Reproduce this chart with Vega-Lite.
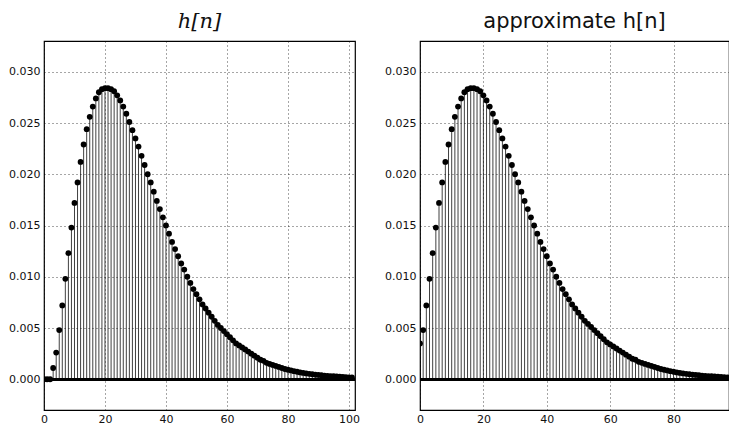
{
  "$schema": "https://vega.github.io/schema/vega-lite/v6.json",
  "padding": {"left": 5, "top": 10, "right": 0, "bottom": 0},
  "background": "white",
  "config": {
    "view": {"stroke": "#000", "strokeWidth": 1.2},
    "title": {"anchor": "middle", "fontSize": 21, "fontWeight": "normal", "color": "#111", "offset": 9},
    "axis": {
      "labelFont": "DejaVu Sans", "labelFontSize": 11, "labelColor": "#111", "labelFlush": false,
      "grid": true, "gridColor": "#000", "gridDash": [1, 3], "gridOpacity": 0.7, "gridWidth": 1,
      "domain": false, "ticks": false, "title": null
    }
  },
  "datasets": {
    "h": [
      {"n":0,"v":0},{"n":1,"v":0},{"n":2,"v":0},{"n":3,"v":0.0011},{"n":4,"v":0.0026},{"n":5,"v":0.0048},{"n":6,"v":0.0072},{"n":7,"v":0.0098},{"n":8,"v":0.0123},{"n":9,"v":0.0148},
      {"n":10,"v":0.0172},{"n":11,"v":0.0192},{"n":12,"v":0.0212},{"n":13,"v":0.0229},{"n":14,"v":0.0244},{"n":15,"v":0.0256},{"n":16,"v":0.0266},{"n":17,"v":0.0274},{"n":18,"v":0.0280},{"n":19,"v":0.0283},
      {"n":20,"v":0.0284},{"n":21,"v":0.0284},{"n":22,"v":0.0283},{"n":23,"v":0.0281},{"n":24,"v":0.0277},{"n":25,"v":0.0272},{"n":26,"v":0.0266},{"n":27,"v":0.0259},{"n":28,"v":0.0251},{"n":29,"v":0.0243},
      {"n":30,"v":0.0235},{"n":31,"v":0.0227},{"n":32,"v":0.0218},{"n":33,"v":0.0209},{"n":34,"v":0.0200},{"n":35,"v":0.0192},{"n":36,"v":0.0183},{"n":37,"v":0.0174},{"n":38,"v":0.0166},{"n":39,"v":0.0158},
      {"n":40,"v":0.0150},{"n":41,"v":0.0142},{"n":42,"v":0.0134},{"n":43,"v":0.0127},{"n":44,"v":0.0120},{"n":45,"v":0.0113},{"n":46,"v":0.0107},{"n":47,"v":0.0100},{"n":48,"v":0.0094},{"n":49,"v":0.0088},
      {"n":50,"v":0.0083},{"n":51,"v":0.0078},{"n":52,"v":0.0073},{"n":53,"v":0.0069},{"n":54,"v":0.0065},{"n":55,"v":0.0061},{"n":56,"v":0.0057},{"n":57,"v":0.0053},{"n":58,"v":0.0050},{"n":59,"v":0.0047},
      {"n":60,"v":0.0044},{"n":61,"v":0.0041},{"n":62,"v":0.0038},{"n":63,"v":0.0035},{"n":64,"v":0.0033},{"n":65,"v":0.0031},{"n":66,"v":0.0029},{"n":67,"v":0.0027},{"n":68,"v":0.0025},{"n":69,"v":0.0023},
      {"n":70,"v":0.0021},{"n":71,"v":0.0019},{"n":72,"v":0.0018},{"n":73,"v":0.0016},{"n":74,"v":0.0015},{"n":75,"v":0.0014},{"n":76,"v":0.0013},{"n":77,"v":0.0012},{"n":78,"v":0.0011},{"n":79,"v":0.0010},
      {"n":80,"v":0.00093},{"n":81,"v":0.00086},{"n":82,"v":0.00079},{"n":83,"v":0.00073},{"n":84,"v":0.00067},{"n":85,"v":0.00062},{"n":86,"v":0.00057},{"n":87,"v":0.00053},{"n":88,"v":0.00049},{"n":89,"v":0.00045},
      {"n":90,"v":0.00042},{"n":91,"v":0.00039},{"n":92,"v":0.00036},{"n":93,"v":0.00033},{"n":94,"v":0.00031},{"n":95,"v":0.00029},{"n":96,"v":0.00027},{"n":97,"v":0.00025},{"n":98,"v":0.00023},{"n":99,"v":0.00021},
      {"n":100,"v":0.00019},{"n":101,"v":0.00018}
    ],
    "a": [
      {"n":0,"v":0.0035},{"n":1,"v":0.0048},{"n":2,"v":0.0072},{"n":3,"v":0.0098},{"n":4,"v":0.0123},{"n":5,"v":0.0148},{"n":6,"v":0.0172},{"n":7,"v":0.0192},{"n":8,"v":0.0212},{"n":9,"v":0.0229},
      {"n":10,"v":0.0244},{"n":11,"v":0.0256},{"n":12,"v":0.0266},{"n":13,"v":0.0274},{"n":14,"v":0.0280},{"n":15,"v":0.0283},{"n":16,"v":0.0284},{"n":17,"v":0.0284},{"n":18,"v":0.0283},{"n":19,"v":0.0281},
      {"n":20,"v":0.0277},{"n":21,"v":0.0272},{"n":22,"v":0.0266},{"n":23,"v":0.0259},{"n":24,"v":0.0251},{"n":25,"v":0.0243},{"n":26,"v":0.0235},{"n":27,"v":0.0227},{"n":28,"v":0.0218},{"n":29,"v":0.0209},
      {"n":30,"v":0.0200},{"n":31,"v":0.0192},{"n":32,"v":0.0183},{"n":33,"v":0.0174},{"n":34,"v":0.0166},{"n":35,"v":0.0158},{"n":36,"v":0.0150},{"n":37,"v":0.0142},{"n":38,"v":0.0134},{"n":39,"v":0.0127},
      {"n":40,"v":0.0120},{"n":41,"v":0.0113},{"n":42,"v":0.0107},{"n":43,"v":0.0100},{"n":44,"v":0.0094},{"n":45,"v":0.0088},{"n":46,"v":0.0083},{"n":47,"v":0.0078},{"n":48,"v":0.0073},{"n":49,"v":0.0069},
      {"n":50,"v":0.0065},{"n":51,"v":0.0061},{"n":52,"v":0.0057},{"n":53,"v":0.0054},{"n":54,"v":0.0051},{"n":55,"v":0.0048},{"n":56,"v":0.0045},{"n":57,"v":0.0042},{"n":58,"v":0.0039},{"n":59,"v":0.0036},
      {"n":60,"v":0.0034},{"n":61,"v":0.0032},{"n":62,"v":0.0030},{"n":63,"v":0.0028},{"n":64,"v":0.0026},{"n":65,"v":0.0024},{"n":66,"v":0.0022},{"n":67,"v":0.0020},{"n":68,"v":0.0019},{"n":69,"v":0.0017},
      {"n":70,"v":0.0016},{"n":71,"v":0.0015},{"n":72,"v":0.0014},{"n":73,"v":0.0013},{"n":74,"v":0.0012},{"n":75,"v":0.0011},{"n":76,"v":0.0010},{"n":77,"v":0.00093},{"n":78,"v":0.00086},{"n":79,"v":0.00079},
      {"n":80,"v":0.00073},{"n":81,"v":0.00067},{"n":82,"v":0.00062},{"n":83,"v":0.00057},{"n":84,"v":0.00053},{"n":85,"v":0.00049},{"n":86,"v":0.00045},{"n":87,"v":0.00042},{"n":88,"v":0.00039},{"n":89,"v":0.00036},
      {"n":90,"v":0.00033},{"n":91,"v":0.00031},{"n":92,"v":0.00029},{"n":93,"v":0.00027},{"n":94,"v":0.00025},{"n":95,"v":0.00023},{"n":96,"v":0.00021},{"n":97,"v":0.00019},{"n":98,"v":0.00018},{"n":99,"v":0.00016},
      {"n":100,"v":0.00015}
    ]
  },
  "spacing": 21,
  "hconcat": [
    {
      "width": 311, "height": 369,
      "title": {"text": "h[n]", "font": "DejaVu Serif", "fontStyle": "italic"},
      "data": {"name": "h"},
      "layer": [
        {
          "mark": {"type": "rule", "color": "#000", "strokeWidth": 1, "opacity": 0.75, "clip": true},
          "encoding": {
            "x": {"field": "n", "type": "quantitative", "scale": {"domain": [0, 102], "nice": false, "zero": false},
                  "axis": {"values": [0, 20, 40, 60, 80, 100], "format": "d", "labelPadding": 3}},
            "y": {"field": "v", "type": "quantitative", "scale": {"domain": [-0.003, 0.033], "nice": false, "zero": false},
                  "axis": {"values": [0, 0.005, 0.01, 0.015, 0.02, 0.025, 0.03], "format": ".3f", "labelPadding": 4, "minExtent": 38, "maxExtent": 38}},
            "y2": {"datum": 0}
          }
        },
        {
          "mark": {"type": "point", "filled": true, "color": "#000", "size": 34, "opacity": 1, "clip": true},
          "encoding": {
            "x": {"field": "n", "type": "quantitative"},
            "y": {"field": "v", "type": "quantitative"}
          }
        },
        {
          "mark": {"type": "rule", "color": "#000", "strokeWidth": 2},
          "encoding": {"y": {"datum": 0}}
        }
      ]
    },
    {
      "width": 309, "height": 369,
      "title": {"text": "approximate h[n]", "font": "DejaVu Sans"},
      "data": {"name": "a"},
      "layer": [
        {
          "mark": {"type": "rule", "color": "#000", "strokeWidth": 1, "opacity": 0.75, "clip": true},
          "encoding": {
            "x": {"field": "n", "type": "quantitative", "scale": {"domain": [0, 97.5], "nice": false, "zero": false},
                  "axis": {"values": [0, 20, 40, 60, 80], "format": "d", "labelPadding": 3}},
            "y": {"field": "v", "type": "quantitative", "scale": {"domain": [-0.003, 0.033], "nice": false, "zero": false},
                  "axis": {"values": [0, 0.005, 0.01, 0.015, 0.02, 0.025, 0.03], "format": ".3f", "labelPadding": 4, "minExtent": 38, "maxExtent": 38}},
            "y2": {"datum": 0}
          }
        },
        {
          "mark": {"type": "point", "filled": true, "color": "#000", "size": 34, "opacity": 1, "clip": true},
          "encoding": {
            "x": {"field": "n", "type": "quantitative"},
            "y": {"field": "v", "type": "quantitative"}
          }
        },
        {
          "mark": {"type": "rule", "color": "#000", "strokeWidth": 2},
          "encoding": {"y": {"datum": 0}}
        }
      ]
    }
  ]
}
